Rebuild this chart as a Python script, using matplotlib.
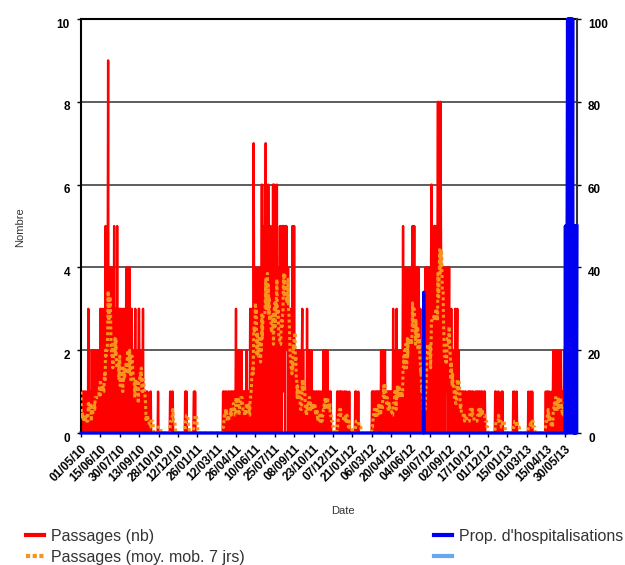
"""
Passages aux urgences et proportion d'hospitalisations
------------------------------------------------------
Recreation of a daily surveillance chart (passages + 7-day moving average,
hospitalisation share on a secondary axis).
"""

import numpy as np
import pandas as pd
import matplotlib
matplotlib.use('Agg')
import matplotlib.pyplot as plt
import matplotlib.transforms as mtransforms
from matplotlib.lines import Line2D

plt.rcParams['font.family'] = ['Liberation Sans', 'DejaVu Sans']

# Data
start_date = '2010-05-01'

# daily passages, one digit per day, one string per 45-day tick interval
passages_blocks = [
    "1001001010010001" "0300100" "1020010201" "201020120210",
    "30103012031" "250303" "490214" "304013042" "5020310502" "103",
    "201302103210320" "4031402041203" "30201021302010203",
    "30201202130100" "10010100" "0000" "11" + "0" * 16 + "1",
    "0" * 27 + "11000110" + "0" * 10,
    "0" * 17 + "1101000000000" "0000000110100" "00",
    "0" * 45,
    "0" * 15 + "1011001" "0100" "0101100101" "110100101",
    "301000201" "20102001010" "1010210010101" "3021302" "27304",
    "4030241" "30413042" "60350426" "270435062304" "503240" "6036",
    "304526031042503" "503455514053542" "340231023015041",
    "50201012" "20100201012" "30201010" "010" "3001020100201" "10",
    "10110010100101001001010" "2010201002" "101001010000",
    "0" * 10 + "101100101010010001010010" "00001000000",
    "0" * 7 + "10100001" + "0" * 30,
    "0" "101101001011010110010" "20102120120" "101101011010",
    "10010" "3010201030" "2010211102012" "5120304203" "4033204",
    "30424" "50325041" "40342041203010210" "01020" "4024140203",
    "4204" "6034205" "5045204" "480564085340" "403204031242" "402",
    "40210302" "20101030012" "30120010" "101001010010100001",
    "010110100101" "0000" "101001011010010110001010" "00000",
    "0" * 17 + "101000011000000101" + "0" * 10,
    "0" * 14 + "1001000010" + "0" * 21,
    "0" * 4 + "1000010001" + "0" * 30 + "1",
    "10010100100000101" "2010021001020110020100101210",
    "1010010100100000000300000000",
]

# hospitalisation share (%), zero except for these days
hosp_spike_date = '2012-07-05'
hosp_spike_value = 34
hosp_tail_start = '2013-05-30'
hosp_tail_values = [50, 0, 50, 0, 50, 100, 0, 100, 50, 100, 0, 100, 50, 100,
                    0, 100, 50, 100, 0, 50, 0, 50, 0, 50, 0, 50, 0, 50]

tick_start = '2010-05-01'
n_ticks = 26

legend_left = ['Passages (nb)', 'Passages (moy. mob. 7 jrs)']
legend_right = ["Prop. d'hospitalisations", '']


def build_series():
    passages = np.array([int(c) for c in ''.join(passages_blocks)])
    dates = pd.date_range(start_date, periods=len(passages), freq='D')
    s_pass = pd.Series(passages, index=dates)
    s_moy = s_pass.rolling(7, min_periods=1).mean()

    s_hosp = pd.Series(0.0, index=dates)
    s_hosp[pd.Timestamp(hosp_spike_date)] = hosp_spike_value
    tail_idx = pd.date_range(hosp_tail_start, periods=len(hosp_tail_values), freq='D')
    s_hosp[tail_idx] = hosp_tail_values
    return s_pass, s_moy, s_hosp


def main():
    s_pass, s_moy, s_hosp = build_series()

    W, H = 625, 565
    fig = plt.figure(figsize=(W / 100, H / 100), dpi=100)
    x0, x1, y0, y1 = 81, 577, 19, 433
    ax = fig.add_axes([x0 / W, 1 - y1 / H, (x1 - x0) / W, (y1 - y0) / H])

    red = '#FF0000'
    orange = '#F7941D'
    blue = '#0000F0'
    light_blue = '#6AA6F0'

    ax.plot(s_pass.index, s_pass.values, color=red, lw=1.7, zorder=2)
    ax.plot(s_moy.index, s_moy.values, color=orange, lw=2.2,
            dashes=(1.0, 0.9), zorder=3)

    ax.set_ylim(0, 10)
    ax.set_yticks(range(0, 11, 2))
    ax.set_xlim(s_pass.index[0], s_pass.index[-1])
    ax.yaxis.grid(True, color='#505050', lw=1.3)
    ax.set_axisbelow(True)

    ticks = pd.date_range(tick_start, periods=n_ticks, freq='45D')
    ax.set_xticks(ticks)
    ax.set_xticklabels([d.strftime('%d/%m/%y') for d in ticks],
                       rotation=45, ha='right', rotation_mode='anchor',
                       fontsize=8.5, fontweight='bold')
    ax.tick_params(axis='x', length=3, width=1, pad=4)
    ax.tick_params(axis='y', length=3, width=1, pad=5, labelsize=8.5)

    for side in ['left', 'top']:
        ax.spines[side].set_color('black')
        ax.spines[side].set_linewidth(1.5)
    ax.spines['right'].set_visible(False)

    ax2 = ax.twinx()
    ax2.plot(s_hosp.index, s_hosp.values, color=blue, lw=2.3,
             clip_on=False, zorder=4)
    ax2.set_ylim(0, 100)
    ax2.set_yticks(range(0, 101, 20))
    ax2.tick_params(axis='y', length=3, width=1, pad=5, labelsize=8.5)
    ax2.spines['right'].set_color('#333333')
    ax2.spines['right'].set_linewidth(1.5)
    ax2.spines['top'].set_visible(False)
    ax2.spines['left'].set_visible(False)

    # y tick labels sit a little below their gridline in the original
    shift = mtransforms.ScaledTranslation(0, -3 / 72, fig.dpi_scale_trans)
    for lab in ax.get_yticklabels() + ax2.get_yticklabels():
        lab.set_fontweight('bold')
        lab.set_transform(lab.get_transform() + shift)

    fig.text(20 / W, 1 - 227 / H, 'Nombre', rotation=90, ha='center',
             va='center', fontsize=8, color='#333333')
    fig.text(343 / W, 1 - 511 / H, 'Date', ha='center', va='center',
             fontsize=8, color='#333333')

    # legend in two columns below the plot
    h_left = [Line2D([], [], color=red, lw=3),
              Line2D([], [], color=orange, lw=3, dashes=(1.0, 0.6))]
    h_right = [Line2D([], [], color=blue, lw=3),
               Line2D([], [], color=light_blue, lw=3)]
    common = dict(loc='upper left', frameon=False, borderaxespad=0,
                  borderpad=0, handlelength=1.1, handletextpad=0.45,
                  labelspacing=0.35, fontsize=11.5, labelcolor='#333333')
    fig.legend(h_left, legend_left, bbox_to_anchor=(26 / W, 1 - 529 / H), **common)
    fig.legend(h_right, legend_right, bbox_to_anchor=(434 / W, 1 - 529 / H), **common)

    fig.savefig('out.png', dpi=100)


if __name__ == "__main__":
    main()
